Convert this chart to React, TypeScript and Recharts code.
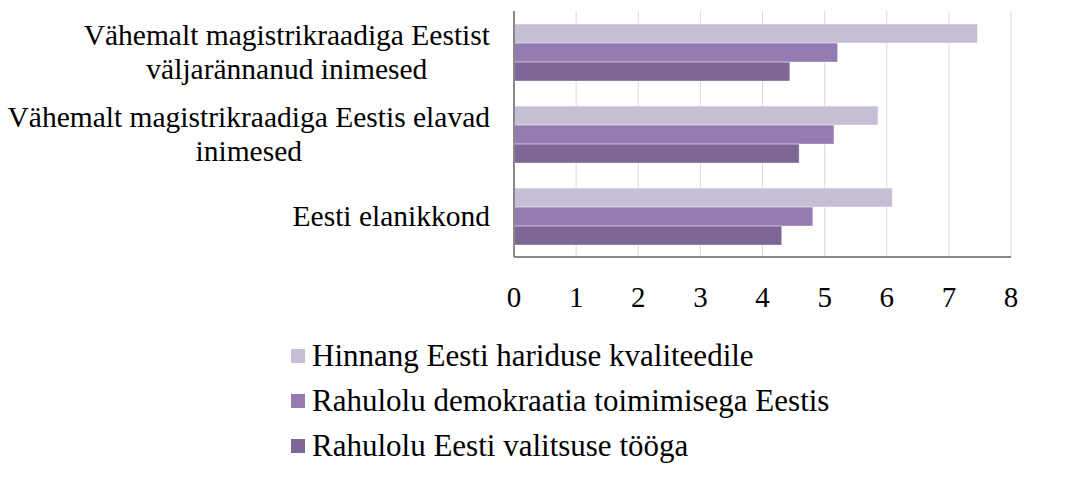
import React from 'react';
import { BarChart, Bar, XAxis, YAxis, CartesianGrid } from 'recharts';

const categories = [
  'Vähemalt magistrikraadiga Eestist\nväljarännanud inimesed',
  'Vähemalt magistrikraadiga Eestis elavad\ninimesed',
  'Eesti elanikkond',
];
const seriesNames = [
  'Hinnang Eesti hariduse kvaliteedile',
  'Rahulolu demokraatia toimimisega Eestis',
  'Rahulolu Eesti valitsuse tööga',
];
const haridus = [7.46, 5.86, 6.09];
const demokraatia = [5.21, 5.15, 4.81];
const valitsus = [4.44, 4.59, 4.31];
const xTicks = [0, 1, 2, 3, 4, 5, 6, 7, 8];

const colors = ['#C6BED5', '#947BB1', '#7E6696'];
const FONT = "'Liberation Serif', 'Times New Roman', serif";
const LABEL_SIZE = 29.5;

const data = categories.map((c, i) => ({
  name: c,
  s0: haridus[i],
  s1: demokraatia[i],
  s2: valitsus[i],
}));

let ctx: CanvasRenderingContext2D | null = null;
function measure(text: string, size: number) {
  if (!ctx) {
    const c = document.createElement('canvas');
    ctx = c.getContext('2d');
  }
  if (!ctx) return text.length * size * 0.45;
  ctx.font = `${size}px 'Liberation Serif'`;
  return ctx.measureText(text).width;
}

const CategoryTick = (props: any) => {
  const { x, y, payload } = props;
  const lines: string[] = String(payload.value).split('\n');
  const maxW = Math.max(...lines.map((l) => measure(l, LABEL_SIZE)));
  const cx = x - maxW / 2;
  const lh = 34;
  const startY = y - ((lines.length - 1) * lh) / 2;
  return (
    <g>
      {lines.map((l, i) => (
        <text
          key={i}
          x={cx}
          y={startY + i * lh}
          dy="0.35em"
          textAnchor="middle"
          fontFamily={FONT}
          fontSize={LABEL_SIZE}
          fill="#000"
        >
          {l}
        </text>
      ))}
    </g>
  );
};

const LegendBlock = () => (
  <div
    style={{
      position: 'absolute',
      left: 291,
      top: 333,
      fontFamily: FONT,
      fontSize: 31,
      color: '#000',
      whiteSpace: 'nowrap',
    }}
  >
    {seriesNames.map((n, i) => (
      <div key={n} style={{ display: 'flex', alignItems: 'center', height: 45 }}>
        <span
          style={{
            display: 'inline-block',
            width: 14,
            height: 14,
            background: colors[i],
            marginRight: 7,
          }}
        />
        <span>{n}</span>
      </div>
    ))}
  </div>
);

export default function App() {
  return (
    <div style={{ position: 'absolute', left: 0, top: 0, width: 1065, height: 482, background: '#fff' }}>
      <BarChart
        width={1065}
        height={482}
        data={data}
        layout="vertical"
        margin={{ top: 11, right: 54, bottom: 165, left: 0 }}
        barGap={0}
        barCategoryGap="16%"
      >
        <CartesianGrid horizontal={false} vertical={true} stroke="#D9D9D9" />
        <XAxis
          type="number"
          domain={[0, 8]}
          ticks={xTicks}
          interval={0}
          tickLine={false}
          tickSize={0}
          tickMargin={29}
          height={60}
          axisLine={{ stroke: '#898989', strokeWidth: 2 }}
          tick={{ fontFamily: FONT, fontSize: 29, fill: '#000' }}
        />
        <XAxis
          xAxisId="top"
          orientation="top"
          type="number"
          domain={[0, 8]}
          tick={false}
          tickLine={false}
          height={0}
          axisLine={{ stroke: '#D9D9D9' }}
        />
        <YAxis
          type="category"
          dataKey="name"
          width={514}
          tickLine={false}
          tickSize={0}
          tickMargin={24}
          axisLine={{ stroke: '#898989', strokeWidth: 2 }}
          tick={<CategoryTick />}
          interval={0}
        />
        <Bar dataKey="s0" name={seriesNames[0]} fill={colors[0]} stroke="rgba(255,255,255,0.45)" isAnimationActive={false} />
        <Bar dataKey="s1" name={seriesNames[1]} fill={colors[1]} stroke="rgba(255,255,255,0.45)" isAnimationActive={false} />
        <Bar dataKey="s2" name={seriesNames[2]} fill={colors[2]} stroke="rgba(255,255,255,0.45)" isAnimationActive={false} />
      </BarChart>
      <LegendBlock />
    </div>
  );
}
